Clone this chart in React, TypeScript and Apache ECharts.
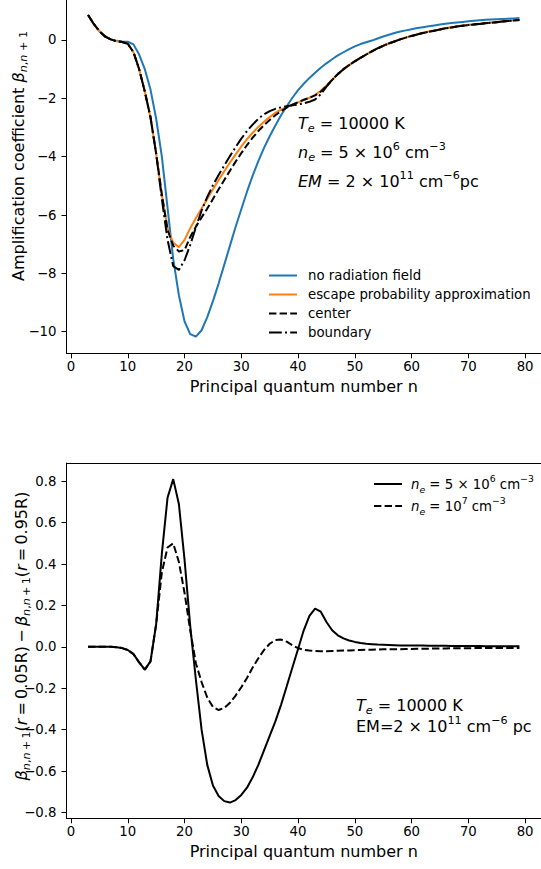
import React, { useEffect, useRef } from 'react';
import * as echarts from 'echarts';

// principal quantum number n
const N = [3, 4, 5, 6, 7, 8, 9, 10, 11, 12, 13, 14, 15, 16, 17, 18, 19, 20, 21, 22,
  23, 24, 25, 26, 27, 28, 29, 30, 31, 32, 33, 34, 35, 36, 37, 38, 39, 40, 41, 42,
  43, 44, 45, 46, 47, 48, 49, 50, 51, 52, 53, 54, 55, 56, 57, 58, 59, 60, 61, 62,
  63, 64, 65, 66, 67, 68, 69, 70, 71, 72, 73, 74, 75, 76, 77, 78, 79];

// top panel: amplification coefficient
const noRadiation = [
  0.86, 0.55, 0.30, 0.12, 0.02, -0.03, -0.05, -0.06, -0.15, -0.50,
  -1.00, -1.70, -2.70, -4.00, -5.75, -7.50, -8.75, -9.65, -10.08, -10.17,
  -9.95, -9.50, -8.95, -8.35, -7.70, -7.05, -6.40, -5.80, -5.20, -4.65,
  -4.15, -3.70, -3.30, -2.93, -2.58, -2.27, -1.98, -1.72, -1.50, -1.30,
  -1.12, -0.95, -0.80, -0.66, -0.53, -0.42, -0.31, -0.22, -0.14, -0.08,
  -0.02, 0.05, 0.12, 0.18, 0.24, 0.29, 0.33, 0.37, 0.41, 0.44,
  0.47, 0.50, 0.53, 0.56, 0.58, 0.60, 0.62, 0.64, 0.66, 0.675,
  0.69, 0.70, 0.71, 0.72, 0.73, 0.74, 0.75];

const escapeProb = [
  0.86, 0.55, 0.30, 0.12, 0.02, -0.04, -0.07, -0.13, -0.42, -1.00,
  -1.77, -2.65, -3.90, -5.30, -6.45, -6.95, -7.10, -6.85, -6.45, -6.10,
  -5.78, -5.45, -5.12, -4.80, -4.50, -4.20, -3.92, -3.65, -3.40, -3.18,
  -2.98, -2.80, -2.64, -2.50, -2.39, -2.30, -2.22, -2.14, -2.06, -1.98,
  -1.88, -1.74, -1.56, -1.36, -1.17, -1.00, -0.86, -0.72, -0.60, -0.49,
  -0.38, -0.28, -0.19, -0.11, -0.04, 0.03, 0.09, 0.15, 0.20, 0.25,
  0.29, 0.33, 0.37, 0.41, 0.44, 0.47, 0.50, 0.52, 0.54, 0.56,
  0.58, 0.60, 0.62, 0.64, 0.66, 0.675, 0.69];

const center = [
  0.86, 0.55, 0.30, 0.12, 0.02, -0.04, -0.07, -0.13, -0.42, -1.00,
  -1.77, -2.65, -3.90, -5.30, -6.50, -7.05, -7.25, -7.20, -6.75, -6.40,
  -6.08, -5.78, -5.45, -5.12, -4.80, -4.48, -4.17, -3.88, -3.60, -3.35,
  -3.12, -2.92, -2.74, -2.58, -2.44, -2.32, -2.22, -2.13, -2.05, -1.98,
  -1.90, -1.77, -1.58, -1.37, -1.17, -1.00, -0.86, -0.73, -0.61, -0.50,
  -0.39, -0.29, -0.20, -0.12, -0.05, 0.02, 0.08, 0.14, 0.19, 0.24,
  0.28, 0.32, 0.36, 0.40, 0.43, 0.46, 0.49, 0.51, 0.53, 0.55,
  0.57, 0.59, 0.61, 0.63, 0.65, 0.67, 0.685];

const boundary = [
  0.86, 0.55, 0.30, 0.12, 0.02, -0.04, -0.07, -0.13, -0.42, -1.00,
  -1.77, -2.65, -3.90, -5.45, -6.85, -7.75, -7.88, -7.55, -7.02, -6.42,
  -5.85, -5.38, -4.98, -4.63, -4.30, -3.98, -3.67, -3.38, -3.12, -2.90,
  -2.70, -2.55, -2.44, -2.36, -2.31, -2.27, -2.24, -2.21, -2.17, -2.12,
  -2.04, -1.86, -1.60, -1.37, -1.17, -1.00, -0.86, -0.73, -0.61, -0.50,
  -0.39, -0.29, -0.20, -0.12, -0.05, 0.02, 0.08, 0.14, 0.19, 0.24,
  0.28, 0.32, 0.36, 0.40, 0.43, 0.46, 0.49, 0.51, 0.53, 0.55,
  0.57, 0.59, 0.61, 0.63, 0.65, 0.67, 0.685];

// bottom panel: beta(r=0.05R) - beta(r=0.95R)
const diffNe5e6 = [
  0, 0, 0, 0, 0, -0.002, -0.006, -0.015, -0.035, -0.075,
  -0.11, -0.07, 0.11, 0.45, 0.72, 0.81, 0.69, 0.42, 0.10, -0.16,
  -0.40, -0.57, -0.67, -0.72, -0.745, -0.752, -0.74, -0.715, -0.68, -0.63,
  -0.57, -0.50, -0.43, -0.36, -0.28, -0.19, -0.10, -0.01, 0.08, 0.15,
  0.185, 0.17, 0.12, 0.08, 0.056, 0.041, 0.031, 0.024, 0.019, 0.015,
  0.013, 0.011, 0.010, 0.009, 0.008, 0.007, 0.007, 0.006, 0.006, 0.006,
  0.005, 0.005, 0.005, 0.005, 0.004, 0.004, 0.004, 0.004, 0.004, 0.004,
  0.003, 0.003, 0.003, 0.003, 0.003, 0.003, 0.003];

const diffNe1e7 = [
  0, 0, 0, 0, 0, -0.002, -0.006, -0.015, -0.035, -0.075,
  -0.11, -0.07, 0.11, 0.36, 0.48, 0.50, 0.41, 0.26, 0.08, -0.08,
  -0.17, -0.245, -0.29, -0.305, -0.295, -0.27, -0.235, -0.195, -0.15, -0.10,
  -0.055, -0.015, 0.015, 0.033, 0.035, 0.025, 0.008, -0.006, -0.014, -0.018,
  -0.020, -0.021, -0.021, -0.020, -0.019, -0.018, -0.017, -0.016, -0.015, -0.014,
  -0.014, -0.013, -0.012, -0.012, -0.011, -0.011, -0.010, -0.010, -0.009, -0.009,
  -0.009, -0.008, -0.008, -0.008, -0.007, -0.007, -0.007, -0.007, -0.006, -0.006,
  -0.006, -0.006, -0.006, -0.005, -0.005, -0.005, -0.005];

const xTicks = [0, 10, 20, 30, 40, 50, 60, 70, 80];
const yTicksTop = [-10, -8, -6, -4, -2, 0];
const yTicksBottom = [-0.8, -0.6, -0.4, -0.2, 0, 0.2, 0.4, 0.6, 0.8];

const FONT = 'DejaVu Sans';
const TICK_FS = 13.3;
const LABEL_FS = 16;

const mkRich = (fs: number, lh: number) => {
  const sfs = fs * 0.7;
  return {
    t: { fontSize: fs, fontFamily: FONT, color: '#000', lineHeight: lh },
    i: { fontSize: fs, fontFamily: FONT, fontStyle: 'italic', color: '#000', lineHeight: lh },
    sub: { fontSize: sfs, fontFamily: FONT, color: '#000', lineHeight: sfs, verticalAlign: 'bottom' },
    subi: { fontSize: sfs, fontFamily: FONT, fontStyle: 'italic', color: '#000', lineHeight: sfs, verticalAlign: 'bottom' },
    sup: { fontSize: sfs, fontFamily: FONT, color: '#000', lineHeight: sfs, verticalAlign: 'top' },
  };
};

export default function App() {
  const ref = useRef<HTMLDivElement>(null);
  useEffect(() => {
    if (!ref.current) return;
    const chart = echarts.init(ref.current, null, { renderer: 'svg' });
    const pair = (arr: number[]) => N.map((n, i) => [n, arr[i]]);
    const minus = (s: string) => s.replace('-', '\u2212');

    const axisLineStyle = { color: '#000', width: 1 };
    const xAxisCommon = {
      type: 'value',
      min: -0.8,
      max: 82.8,
      splitLine: { show: false },
      axisLine: { show: true, onZero: false, lineStyle: axisLineStyle },
      axisTick: { show: true, length: 5, lineStyle: { color: '#000', width: 1 }, customValues: xTicks },
      axisLabel: { fontSize: TICK_FS, fontFamily: FONT, color: '#000', margin: 7, customValues: xTicks },
      name: 'Principal quantum number n',
      nameLocation: 'middle',
      nameGap: 25.5,
      nameTextStyle: { fontSize: LABEL_FS, fontFamily: FONT, color: '#000' },
    };

    const rich16 = mkRich(LABEL_FS, 22);
    const rich13 = mkRich(TICK_FS, 20);
    const legendCommon = {
      orient: 'vertical', padding: 0, itemWidth: 28, itemHeight: 14,
      itemStyle: { opacity: 0, borderWidth: 0 },
    };
    const ts = '\u2009';

    const option: any = {
      animation: false,
      grid: [
        { left: 66.5, width: 474.5, top: 0, height: 353.3 },
        { left: 66.5, width: 474.5, top: 463, height: 355.3 },
      ],
      xAxis: [
        { ...xAxisCommon, gridIndex: 0 },
        { ...xAxisCommon, gridIndex: 1 },
        {
          type: 'value', gridIndex: 1, position: 'top', min: -0.8, max: 82.8,
          splitLine: { show: false }, axisTick: { show: false }, axisLabel: { show: false },
          axisLine: { show: true, onZero: false, lineStyle: axisLineStyle },
        },
      ],
      yAxis: [
        {
          type: 'value', gridIndex: 0, min: -10.74, max: 1.371,
          splitLine: { show: false },
          axisLine: { show: true, onZero: false, lineStyle: axisLineStyle },
          axisTick: { show: true, length: 5, lineStyle: { color: '#000', width: 1 }, customValues: yTicksTop },
          axisLabel: {
            fontSize: TICK_FS, fontFamily: FONT, color: '#000', margin: 10, customValues: yTicksTop,
            formatter: (v: number) => minus(String(v)),
          },
        },
        {
          type: 'value', gridIndex: 1, min: -0.828, max: 0.888,
          splitLine: { show: false },
          axisLine: { show: true, onZero: false, lineStyle: axisLineStyle },
          axisTick: { show: true, length: 5, lineStyle: { color: '#000', width: 1 }, customValues: yTicksBottom },
          axisLabel: {
            fontSize: TICK_FS, fontFamily: FONT, color: '#000', margin: 10, customValues: yTicksBottom,
            formatter: (v: number) => minus(v.toFixed(1)),
          },
        },
      ],
      legend: [
        {
          ...legendCommon, left: 268, top: 269, itemGap: 6,
          data: ['no radiation field', 'escape probability approximation', 'center', 'boundary'],
          textStyle: { fontSize: TICK_FS, fontFamily: FONT, color: '#000', padding: [0, 0, 0, 6] },
        },
        {
          ...legendCommon, left: 373, top: 474, itemGap: 2,
          data: ['ne5e6', 'ne1e7'],
          formatter: (name: string) => name === 'ne5e6'
            ? '{i|n}{subi|e}{t| = 5 × 10}{sup|6}{t| cm}{sup|\u22123}'
            : '{i|n}{subi|e}{t| = 10}{sup|7}{t| cm}{sup|\u22123}',
          textStyle: { fontSize: TICK_FS, fontFamily: FONT, color: '#000', padding: [0, 0, 0, 4], rich: rich13 },
        },
      ],
      graphic: [
        {
          type: 'text', x: 18, y: 156, rotation: Math.PI / 2,
          style: {
            text: '{t|Amplification coefficient }{i|β}{subi|n}{sub|,}{subi|n}{sub| + 1}',
            rich: rich16, align: 'center', verticalAlign: 'middle',
          },
        },
        {
          type: 'text', x: 21, y: 636, rotation: Math.PI / 2,
          style: {
            text: `{i|β}{subi|n}{sub|,}{subi|n}{sub|${ts}+${ts}1}{t|(}{i|r}{t|${ts}=${ts}0.05R)${ts}−${ts}}{i|β}{subi|n}{sub|,}{subi|n}{sub|${ts}+${ts}1}{t|(}{i|r}{t|${ts}=${ts}0.95R)}`,
            rich: rich16, align: 'center', verticalAlign: 'middle',
          },
        },
        {
          type: 'text', x: 298, y: 123,
          style: { text: '{i|T}{subi|e}{t| = 10000 K}', rich: rich16, align: 'left', verticalAlign: 'middle' },
        },
        {
          type: 'text', x: 298, y: 152,
          style: { text: '{i|n}{subi|e}{t| = 5 × 10}{sup|6}{t| cm}{sup|\u22123}', rich: rich16, align: 'left', verticalAlign: 'middle' },
        },
        {
          type: 'text', x: 298, y: 181,
          style: { text: '{i|EM}{t| = 2 × 10}{sup|11}{t| cm}{sup|\u22126}{t|pc}', rich: rich16, align: 'left', verticalAlign: 'middle' },
        },
        {
          type: 'text', x: 356, y: 705,
          style: { text: '{i|T}{subi|e}{t| = 10000 K}', rich: rich16, align: 'left', verticalAlign: 'middle' },
        },
        {
          type: 'text', x: 356, y: 726,
          style: { text: '{t|EM=2 × 10}{sup|11}{t| cm}{sup|\u22126}{t| pc}', rich: rich16, align: 'left', verticalAlign: 'middle' },
        },
      ],
      series: [
        {
          name: 'no radiation field', type: 'line', xAxisIndex: 0, yAxisIndex: 0, symbol: 'none',
          data: pair(noRadiation), lineStyle: { color: '#1f77b4', width: 2 }, itemStyle: { color: '#1f77b4' },
        },
        {
          name: 'escape probability approximation', type: 'line', xAxisIndex: 0, yAxisIndex: 0, symbol: 'none',
          data: pair(escapeProb), lineStyle: { color: '#ff7f0e', width: 2 }, itemStyle: { color: '#ff7f0e' },
        },
        {
          name: 'center', type: 'line', xAxisIndex: 0, yAxisIndex: 0, symbol: 'none',
          data: pair(center), lineStyle: { color: '#000', width: 2, type: [7.4, 3.2] }, itemStyle: { color: '#000' },
        },
        {
          name: 'boundary', type: 'line', xAxisIndex: 0, yAxisIndex: 0, symbol: 'none',
          data: pair(boundary), lineStyle: { color: '#000', width: 2, type: [12.8, 3.2, 2, 3.2] }, itemStyle: { color: '#000' },
        },
        {
          name: 'ne5e6', type: 'line', xAxisIndex: 1, yAxisIndex: 1, symbol: 'none',
          data: pair(diffNe5e6), lineStyle: { color: '#000', width: 2 }, itemStyle: { color: '#000' },
        },
        {
          name: 'ne1e7', type: 'line', xAxisIndex: 1, yAxisIndex: 1, symbol: 'none',
          data: pair(diffNe1e7), lineStyle: { color: '#000', width: 2, type: [7.4, 3.2] }, itemStyle: { color: '#000' },
        },
      ],
    };
    chart.setOption(option);
    return () => chart.dispose();
  }, []);

  return (
    <div
      ref={ref}
      style={{ position: 'absolute', left: 0, top: 0, width: 541, height: 869, background: '#fff' }}
    />
  );
}
